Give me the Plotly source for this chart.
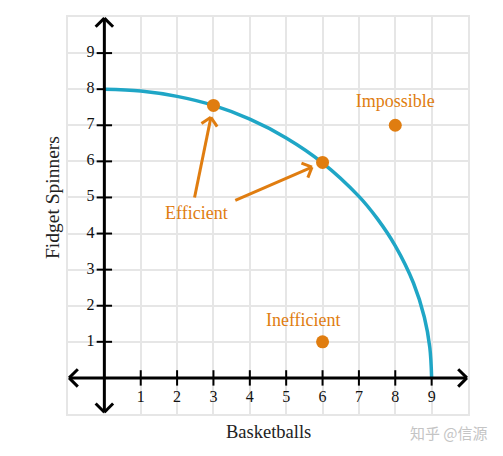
import plotly.graph_objects as go

# frontier curve
curve_x = [0, 1, 2, 3, 4, 5, 6, 7, 7.5, 8, 8.5, 8.8, 8.95, 9]
curve_y = [8, 7.95, 7.8, 7.55, 7.17, 6.65, 5.96, 5.03, 4.42, 3.66, 2.63, 1.68, 0.84, 0]

# highlighted points
point_x = [3, 6, 8, 6]
point_y = [7.55, 5.97, 7, 1]

# labels
label_text = ["Impossible", "Inefficient", "Efficient"]
label_x = [8.0, 5.47, 2.53]
label_y = [7.62, 1.57, 4.52]

# arrows from "Efficient" label: (base_x, base_y, tip_x, tip_y)
arrows = [(2.48, 5.0, 2.93, 7.22), (3.6, 4.92, 5.71, 5.84)]

ticks = [1, 2, 3, 4, 5, 6, 7, 8, 9]

ORANGE = "#E07D10"
TEAL = "#1FA6C6"
FONT = "Liberation Serif"

fig = go.Figure()

# axes lines
shapes = [
    dict(type="line", x0=-0.97, y0=0, x1=9.97, y1=0, line=dict(color="black", width=3)),
    dict(type="line", x0=0, y0=-0.95, x1=0, y1=9.97, line=dict(color="black", width=3)),
]


def chevron(tx, ty, dx, dy, size, color, width):
    # open arrow head at (tx, ty) pointing along (dx, dy)
    n = (dx * dx + dy * dy) ** 0.5
    ux, uy = dx / n, dy / n
    px, py = -uy, ux
    out = []
    for s in (1, -1):
        out.append(dict(type="line", x0=tx, y0=ty,
                        x1=tx - size * ux + s * size * px,
                        y1=ty - size * uy + s * size * py,
                        line=dict(color=color, width=width)))
    return out


shapes += chevron(-0.97, 0, -1, 0, 0.24, "black", 3)
shapes += chevron(9.97, 0, 1, 0, 0.24, "black", 3)
shapes += chevron(0, 9.97, 0, 1, 0.24, "black", 3)
shapes += chevron(0, -0.95, 0, -1, 0.24, "black", 3)

for bx, by, tx, ty in arrows:
    shapes.append(dict(type="line", x0=bx, y0=by, x1=tx, y1=ty,
                       line=dict(color=ORANGE, width=3)))
    shapes += chevron(tx, ty, tx - bx, ty - by, 0.22, ORANGE, 3)

# tick marks
fig.add_trace(go.Scatter(
    x=ticks, y=[0] * len(ticks), mode="markers",
    marker=dict(symbol="line-ns", size=11, line=dict(color="black", width=2)),
    hoverinfo="skip"))
fig.add_trace(go.Scatter(
    x=[0] * len(ticks), y=ticks, mode="markers",
    marker=dict(symbol="line-ew", size=11, line=dict(color="black", width=2)),
    hoverinfo="skip"))

# tick labels
fig.add_trace(go.Scatter(
    x=ticks, y=[-0.55] * len(ticks), mode="text", text=[str(t) for t in ticks],
    textfont=dict(family=FONT, size=16, color="#111"), hoverinfo="skip"))
fig.add_trace(go.Scatter(
    x=[-0.38] * len(ticks), y=ticks, mode="text", text=[str(t) for t in ticks],
    textfont=dict(family=FONT, size=16, color="#111"), hoverinfo="skip"))

# frontier
fig.add_trace(go.Scatter(
    x=curve_x, y=curve_y, mode="lines", line=dict(color=TEAL, width=3.5, shape="spline"),
    hoverinfo="skip"))

# points
fig.add_trace(go.Scatter(
    x=point_x, y=point_y, mode="markers",
    marker=dict(color=ORANGE, size=13), hoverinfo="skip"))

# labels
fig.add_trace(go.Scatter(
    x=label_x, y=label_y, mode="text", text=label_text,
    textfont=dict(family=FONT, size=18, color=ORANGE), hoverinfo="skip"))

annotations = [
    dict(x=0.501, y=-0.0455, xref="paper", yref="paper", xanchor="center",
         yanchor="middle", text="Basketballs", showarrow=False,
         font=dict(family=FONT, size=18.5, color="#222")),
    dict(x=-0.039, y=0.545, xref="paper", yref="paper", xanchor="center",
         yanchor="middle", text="Fidget Spinners", showarrow=False, textangle=-90,
         font=dict(family=FONT, size=19.5, color="#222")),
    dict(x=1.056, y=-0.047, xref="paper", yref="paper", xanchor="right",
         yanchor="middle", text="知乎 @信源", showarrow=False,
         font=dict(family="Noto Sans CJK SC", size=15, color="#c4c4c4")),
]

# page body has an 8px margin, so the plot area is shifted up-left by that amount
fig.update_layout(
    width=503, height=456,
    margin=dict(l=60, r=43, t=7, b=50),
    plot_bgcolor="white", paper_bgcolor="white",
    showlegend=False,
    shapes=shapes,
    annotations=annotations,
    xaxis=dict(range=[-1, 10], dtick=1, tick0=0, showgrid=True, gridcolor="#e6e6e6",
               gridwidth=2, zeroline=False, showticklabels=False, ticks="",
               showline=True, linecolor="#e6e6e6", linewidth=2, mirror=True,
               fixedrange=True),
    yaxis=dict(range=[-1, 10], dtick=1, tick0=0, showgrid=True, gridcolor="#e6e6e6",
               gridwidth=2, zeroline=False, showticklabels=False, ticks="",
               showline=True, linecolor="#e6e6e6", linewidth=2, mirror=True,
               fixedrange=True),
)

fig.write_html("out.html")
